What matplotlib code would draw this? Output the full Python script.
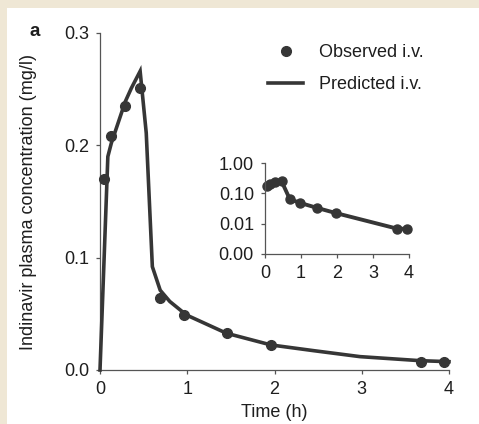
import numpy as np
import matplotlib
matplotlib.use("Agg")
import matplotlib.pyplot as plt
from matplotlib.ticker import FuncFormatter

plt.rcParams['font.family'] = ['Liberation Sans', 'DejaVu Sans']

# observed i.v. concentrations (mg/l)
obs_t = [0.05, 0.13, 0.29, 0.46, 0.69, 0.96, 1.45, 1.96, 3.68, 3.94]
obs_c = [0.170, 0.208, 0.235, 0.251, 0.064, 0.049, 0.033, 0.0225, 0.0068, 0.0068]

# predicted i.v. curve
pred_t = [0.0, 0.09, 0.13, 0.29, 0.36, 0.46, 0.53, 0.60, 0.69, 0.80, 0.99,
          1.45, 1.96, 2.45, 2.98, 3.67, 4.0]
pred_c = [0.0, 0.190, 0.202, 0.239, 0.251, 0.266, 0.211, 0.092, 0.071, 0.061,
          0.049, 0.0327, 0.0223, 0.0172, 0.0119, 0.0083, 0.0074]

xticks = [0, 1, 2, 3, 4]
yticks = [0.0, 0.1, 0.2, 0.3]
inset_yticks = [0.001, 0.01, 0.1, 1.0]

dark = '#363636'
txt = '#1e1e1e'
fs = 13

fig = plt.figure(figsize=(4.79, 4.24), dpi=100)
fig.patch.set_facecolor('#efe7d5')
# white panel
fig.patches.append(plt.Rectangle((7 / 479, 0), 1, 1 - 8 / 424, transform=fig.transFigure,
                                 facecolor='white', edgecolor='none', zorder=-10))

ax = fig.add_axes([100 / 479, 1 - 370 / 424, 349 / 479, 337 / 424])
ax.set_facecolor('none')
ax.plot(pred_t, pred_c, color=dark, lw=2.6, solid_joinstyle='miter', clip_on=False,
        label='Predicted i.v.', zorder=3)
ax.plot(obs_t, obs_c, 'o', color=dark, ms=7, clip_on=False, label='Observed i.v.', zorder=4)
ax.set_xlim(0, 4)
ax.set_ylim(0, 0.3)
ax.set_xticks(xticks)
ax.set_yticks(yticks)
ax.yaxis.set_major_formatter(FuncFormatter(lambda v, p: '%.1f' % v))
for s in ['top', 'right']:
    ax.spines[s].set_visible(False)
for s in ['left', 'bottom']:
    ax.spines[s].set_color('#555555')
    ax.spines[s].set_linewidth(0.9)
ax.tick_params(length=3, width=0.9, color='#555555', pad=5, labelsize=fs, labelcolor=txt)
ax.set_xlabel('Time (h)', fontsize=fs, color=txt)
ax.set_ylabel('Indinavir plasma concentration (mg/l)', fontsize=fs, color=txt)
ax.xaxis.set_label_coords(0.5, -0.1)
ax.yaxis.set_label_coords(-0.18, 0.5)

h, l = ax.get_legend_handles_labels()
leg = ax.legend(h[::-1], l[::-1], loc='upper left', bbox_to_anchor=(268 / 479, 1 - 44 / 424),
                bbox_transform=fig.transFigure, frameon=False, fontsize=fs, borderpad=0,
                borderaxespad=0, handlelength=1.95, handletextpad=0.85, labelspacing=0.85,
                numpoints=1)
for t in leg.get_texts():
    t.set_color(txt)

fig.text(35 / 479, 1 - 31 / 424, 'a', fontsize=13.5, fontweight='bold', ha='center',
         va='center', color=txt)

# inset, log scale
ax2 = fig.add_axes([265 / 479, 1 - 254 / 424, 144 / 479, 91 / 424])
ax2.set_facecolor('none')
ax2.plot(obs_t, obs_c, '-o', color=dark, lw=2.8, ms=6.5, clip_on=False)
ax2.set_yscale('log')
ax2.set_xlim(0, 4)
ax2.set_ylim(0.001, 1.0)
ax2.set_xticks(xticks)
ax2.set_yticks(inset_yticks)
ax2.yaxis.set_minor_locator(matplotlib.ticker.NullLocator())
ax2.yaxis.set_major_formatter(FuncFormatter(lambda v, p: '%.2f' % v))
for s in ['top', 'right']:
    ax2.spines[s].set_visible(False)
for s in ['left', 'bottom']:
    ax2.spines[s].set_color('#555555')
    ax2.spines[s].set_linewidth(0.9)
ax2.tick_params(length=3, width=0.9, color='#555555', pad=5, labelsize=fs, labelcolor=txt)

fig.savefig('out.png', dpi=100, facecolor=fig.get_facecolor())
